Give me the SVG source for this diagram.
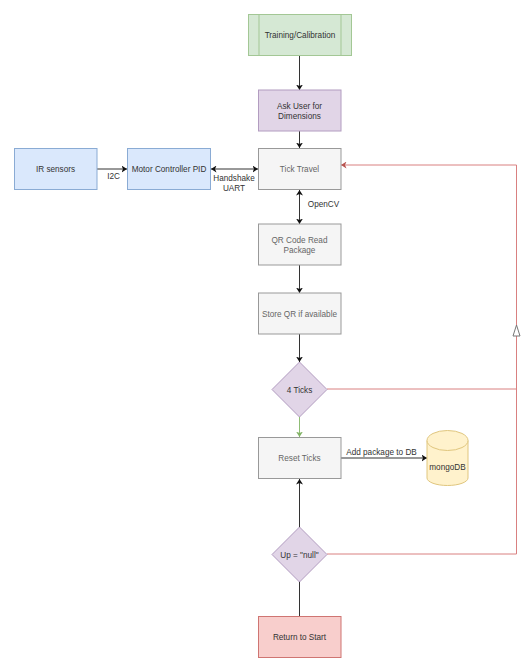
<svg xmlns="http://www.w3.org/2000/svg" width="523" height="658" viewBox="0 0 523 658">
<style>
text{font-family:"Liberation Sans",Arial,sans-serif;font-size:8.2px;text-anchor:middle;fill:#333}
.n{stroke-width:1}
.g{fill:#d5e8d4;stroke:#a3c795}
.p{fill:#e1d5e7;stroke:#b29cc0}
.b{fill:#dae8fc;stroke:#8aabd4}
.w{fill:#f5f5f5;stroke:#999}
.r{fill:#f8cecc;stroke:#cf7572}
.y{fill:#fff2cc;stroke:#e0c67e}
.m{fill:#666}
#connectors path{fill:none;stroke:#333;stroke-width:1}
#connectors path.red{stroke:#d98080}
#connectors path.grn{stroke:#8fbd75}
</style>
<defs>
<marker id="a" markerUnits="userSpaceOnUse" markerWidth="6" markerHeight="7" refX="5.5" refY="3.500" orient="auto-start-reverse"><path d="M0 0L5.500 3.500L0 7L1.500 3.500Z" fill="#111"/></marker>
<marker id="ag" markerUnits="userSpaceOnUse" markerWidth="6" markerHeight="7" refX="5.5" refY="3.500" orient="auto"><path d="M0 0L5.500 3.500L0 7L1.500 3.500Z" fill="#82b366"/></marker>
<marker id="ar" markerUnits="userSpaceOnUse" markerWidth="6" markerHeight="7" refX="5.5" refY="3.500" orient="auto"><path d="M0 0L5.500 3.500L0 7L1.500 3.500Z" fill="#b85450"/></marker>
</defs>
<rect width="523" height="658" fill="#fff"/>
<g id="connectors">
<path d="M299.500 55V90" marker-end="url(#a)"/>
<path d="M299.500 131V148" marker-end="url(#a)"/>
<path d="M97 169H127" marker-end="url(#a)"/>
<path d="M211 169H258" marker-start="url(#a)" marker-end="url(#a)"/>
<path d="M299.500 190V224" marker-start="url(#a)" marker-end="url(#a)"/>
<path d="M299.500 265V293" marker-end="url(#a)"/>
<path d="M299.500 334V362" marker-end="url(#a)"/>
<path class="grn" d="M299.500 417V437" marker-end="url(#ag)"/>
<path d="M341 458H427" marker-end="url(#a)"/>
<path d="M299.500 616V479" marker-end="url(#a)"/>
<path class="red" d="M327 389H516.500"/>
<path class="red" d="M327 554H516.500V165H341" marker-end="url(#ar)"/>
<path d="M513 336L516.500 325L520 336Z" style="fill:#fff;stroke:#777;stroke-width:1"/>
</g>
<g id="training"><rect class="n g" x="248.500" y="14.500" width="103" height="41"/><path class="n g" d="M259 14.500V55.500M341 14.500V55.500"/><text x="300" y="38">Training/Calibration</text></g>
<g id="ask"><rect class="n p" x="258.500" y="90" width="82.500" height="41"/><text x="299.500" y="109">Ask User for</text><text x="299.500" y="119">Dimensions</text></g>
<g id="ir"><rect class="n b" x="14.500" y="148.500" width="82.500" height="41"/><text x="55.500" y="172">IR sensors</text></g>
<g id="motor"><rect class="n b" x="127.500" y="148.500" width="83" height="41"/><text x="169" y="172">Motor Controller PID</text></g>
<g id="tick"><rect class="n w" x="258.500" y="148.500" width="82.500" height="41"/><text class="m" x="299.500" y="172">Tick Travel</text></g>
<g id="qr"><rect class="n w" x="258.500" y="224" width="82.500" height="41"/><text class="m" x="299.500" y="243">QR Code Read</text><text class="m" x="299.500" y="253">Package</text></g>
<g id="store"><rect class="n w" x="258.500" y="293" width="82.500" height="41"/><text class="m" x="299.500" y="317">Store QR if available</text></g>
<g id="ticks4"><path class="n p" d="M299.500 362L327 389.500L299.500 417L272 389.500Z"/><text x="299.500" y="392.500">4 Ticks</text></g>
<g id="reset"><rect class="n w" x="258.500" y="437.500" width="82.500" height="41"/><text class="m" x="299.500" y="461">Reset Ticks</text></g>
<g id="mongo"><path class="n y" d="M427 440.500V478C427 482 436 485.500 447.500 485.500S468 482 468 478V440.500Z"/><ellipse class="n y" cx="447.500" cy="440.500" rx="20.500" ry="10"/><text x="447.500" y="470">mongoDB</text></g>
<g id="up"><path class="n p" d="M299.500 527L327 554.500L299.500 582L272 554.500Z"/><text x="299.500" y="557.500">Up = "null"</text></g>
<g id="return"><rect class="n r" x="258.500" y="616.500" width="82.500" height="41"/><text x="299.500" y="640">Return to Start</text></g>
<g id="labels">
<text x="113.500" y="179">I2C</text>
<text x="234" y="181">Handshake</text>
<text x="234" y="191">UART</text>
<text x="323.500" y="207">OpenCV</text>
<text x="381.500" y="454.500">Add package to DB</text>
</g>
</svg>
